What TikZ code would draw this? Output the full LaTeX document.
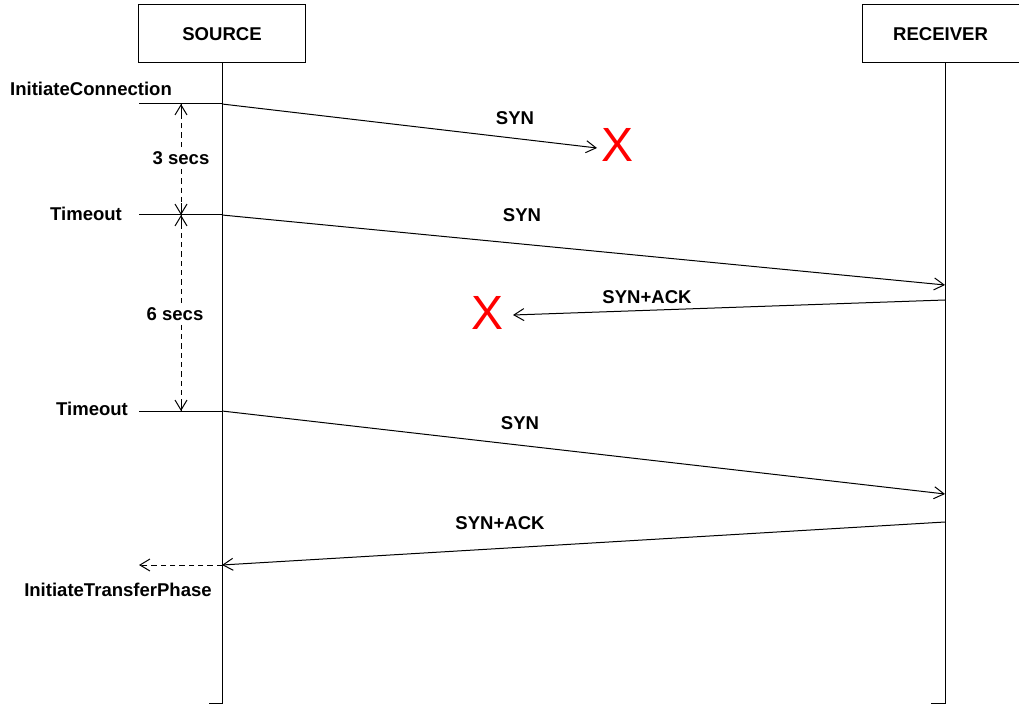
\documentclass[tikz,border=0pt]{standalone}
\usepackage{fontspec}
\setmainfont{Liberation Sans}
\usetikzlibrary{arrows.meta,calc}
\begin{document}
\begin{tikzpicture}[x=0.75pt,y=-0.75pt,
  lbl/.style={font=\bfseries\fontsize{13.9}{16}\selectfont, inner sep=0pt},
  hdr/.style={draw, line width=0.75pt, minimum width=125pt, minimum height=43.5pt, font=\bfseries\fontsize{13.9}{16}\selectfont, inner sep=0pt},
  ln/.style={line width=0.75pt},
  msg/.style={line width=0.75pt, -{Straight Barb[length=7.5pt,width=9pt,line width=0.75pt]}},
  dim/.style={line width=0.75pt, dashed, dash pattern=on 4pt off 3pt},
  dimtip/.style={line width=0.75pt, -{Straight Barb[length=7.5pt,width=9pt,line width=0.75pt]}},
  cross/.style={text=red, font=\fontsize{36}{40}\selectfont, inner sep=0pt}]
\useasboundingbox (0,0) rectangle (1019,705);
% headers
\node[hdr] (src) at (222,34) {SOURCE};
\node[hdr, minimum width=117.75pt] (rcv) at (940.5,34) {RECEIVER};
% lifelines
\coordinate (sbot) at (222,703);
\coordinate (rbot) at (945,703);
\coordinate (sfoot) at (209,703);
\coordinate (rfoot) at (931,703);
\draw[ln] (src.south) -- (sbot) -- (sfoot);
\draw[ln] (rcv.south -| rbot) -- (rbot) -- (rfoot);
% anchor coordinates
\coordinate (a1) at (222,104); \coordinate (l1) at (139,104);
\coordinate (a2) at (222,215); \coordinate (l2) at (139,215);
\coordinate (a3) at (222,411); \coordinate (l3) at (139,411);
\coordinate (a4) at (222,565); \coordinate (l4) at (139,565);
\coordinate (x1end) at (597,148);
\coordinate (r2) at (945,285);
\coordinate (r3) at (945,300);
\coordinate (x2end) at (513,315);
\coordinate (r4) at (945,494);
\coordinate (r5) at (945,522);
% event labels
\node[lbl] (ic) at (91,89) {InitiateConnection};
\node[lbl] (to1) at (86,214) {Timeout};
\node[lbl] (to2) at (92,409) {Timeout};
\node[lbl] (itp) at (118,590) {InitiateTransferPhase};
\draw[ln] (l1) -- (a1);
\draw[ln] (l2) -- (a2);
\draw[ln] (l3) -- (a3);
% messages
\draw[msg] (a1) -- (x1end);
\node[lbl] (m1) at (515,118) {SYN};
\node[cross] (x1) at (617,145) {X};
\draw[msg] (a2) -- (r2);
\node[lbl] (m2) at (522,215) {SYN};
\draw[msg] (r3) -- (x2end);
\node[lbl] (m3) at (647,297) {SYN+ACK};
\node[cross] (x2) at (487,313) {X};
\draw[msg] (a3) -- (r4);
\node[lbl] (m4) at (520,423) {SYN};
\draw[msg] (r5) -- (a4);
\node[lbl] (m5) at (500,523) {SYN+ACK};
\draw[msg, dashed, dash pattern=on 4pt off 3pt] (a4) -- (l4);
% durations
\coordinate (d1t) at (181,104); \coordinate (d1b) at (181,215);
\coordinate (d2t) at (181,215); \coordinate (d2b) at (181,411);
\node[lbl, fill=white, inner sep=3pt] (t1) at (181,158) {3 secs};
\node[lbl, fill=white, inner sep=3pt] (t2) at (175,314) {6 secs};
\draw[dim] (t1.north -| d1t) -- (d1t);
\draw[dim] (t1.south -| d1t) -- (d1b);
\draw[dimtip] ($(d1t)+(0,12)$) -- (d1t);
\draw[dimtip] ($(d1b)+(0,-12)$) -- (d1b);
\draw[dim] (t2.north -| d2t) -- (d2t);
\draw[dim] (t2.south -| d2t) -- (d2b);
\draw[dimtip] ($(d2t)+(0,12)$) -- (d2t);
\draw[dimtip] ($(d2b)+(0,-12)$) -- (d2b);
\end{tikzpicture}
\end{document}
